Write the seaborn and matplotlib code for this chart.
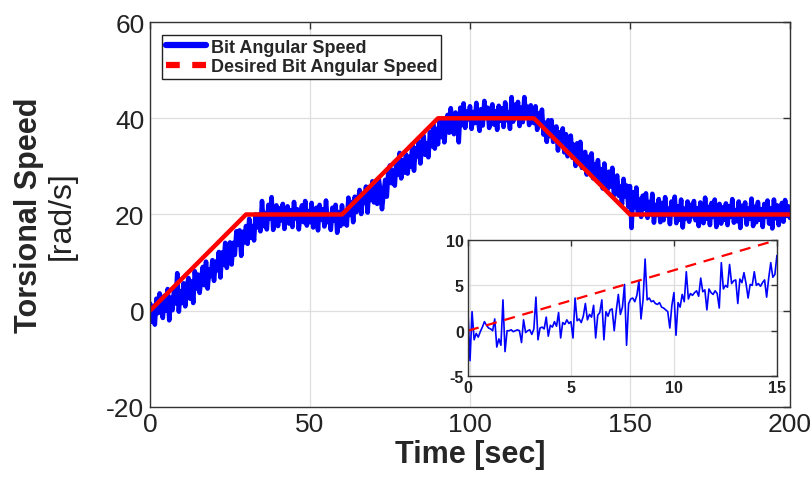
import numpy as np
import pandas as pd
import matplotlib.pyplot as plt
import seaborn as sns
from matplotlib.lines import Line2D

# ========= DATOS =========
# velocidad angular de la broca, muestreada cada 0.5 s de 0 a 200 s
time_range = [0, 200]
bit_speed = [
    1.5, -2.3, 1.0, -2.9, 2.5, -0.5, 3.6, 0.5, -1.5, 3.1, 0.0, 4.5, -2.0, 2.7, 0.1, 4.3, 1.5, 7.8, -0.2, 4.0,
    1.6, 5.7, 0.9, 4.7, 6.8, 2.5, 6.1, 1.6, 8.2, 4.6, 7.5, 3.7, 6.7, 9.1, 5.3, 10.2, 4.6, 8.5, 7.2, 10.5,
    6.2, 10.2, 8.4, 12.2, 6.9, 12.1, 9.6, 14.1, 8.9, 12.4, 14.2, 9.6, 14.1, 11.6, 16.5, 13.7, 16.7, 11.4, 16.4, 14.2,
    17.6, 13.9, 19.1, 15.2, 17.6, 14.6, 20.0, 17.3, 20.0, 16.5, 22.8, 17.6, 20.3, 16.9, 22.0, 19.1, 23.6, 16.8, 20.5, 21.9,
    17.6, 21.3, 18.8, 22.2, 17.0, 20.5, 21.7, 18.1, 20.9, 17.4, 22.6, 19.2, 21.1, 16.9, 20.3, 21.9, 18.4, 22.8, 17.7, 20.7,
    18.4, 22.4, 17.3, 20.7, 21.4, 16.7, 22.0, 18.9, 21.1, 17.5, 22.9, 18.4, 20.0, 16.8, 21.4, 18.8, 22.0, 16.2, 20.5, 17.6,
    21.9, 18.0, 20.7, 17.7, 23.5, 19.9, 22.6, 18.4, 23.7, 20.5, 22.4, 25.1, 20.1, 23.9, 22.4, 25.8, 20.4, 25.7, 23.0, 26.9,
    22.5, 26.0, 22.2, 27.4, 24.9, 21.1, 24.3, 27.2, 23.7, 29.1, 30.2, 26.5, 29.1, 26.0, 31.1, 28.3, 32.8, 27.5, 31.3, 28.7,
    32.5, 28.5, 32.0, 30.0, 34.6, 29.1, 33.8, 32.1, 35.2, 30.6, 34.6, 36.4, 32.4, 34.8, 31.9, 37.1, 34.2, 38.8, 33.7, 37.8,
    34.6, 39.5, 36.1, 39.2, 35.0, 39.0, 40.7, 37.0, 42.1, 38.2, 36.7, 41.2, 40.0, 35.0, 42.2, 38.6, 43.1, 38.0, 41.4, 39.8,
    42.5, 37.8, 41.3, 39.0, 43.2, 39.8, 37.4, 41.9, 38.5, 43.6, 40.1, 42.2, 38.0, 41.1, 42.9, 38.7, 41.5, 37.6, 42.6, 39.5,
    42.1, 38.2, 43.3, 39.6, 41.2, 37.8, 44.4, 39.3, 42.8, 40.2, 43.4, 38.4, 42.2, 39.2, 44.4, 40.5, 42.4, 38.6, 42.7, 39.3,
    39.0, 42.5, 37.6, 41.0, 38.8, 41.8, 36.6, 39.1, 35.1, 39.6, 36.3, 39.6, 35.1, 36.9, 38.3, 33.3, 37.1, 34.6, 37.9, 32.9,
    36.7, 32.1, 34.9, 36.4, 31.8, 34.5, 30.1, 34.8, 31.7, 35.1, 29.7, 32.1, 33.0, 28.3, 32.0, 29.4, 32.7, 27.5, 30.4, 27.6,
    31.3, 27.3, 29.4, 25.4, 30.6, 27.2, 25.2, 28.9, 25.8, 29.7, 24.0, 27.0, 28.1, 23.9, 25.8, 22.1, 27.4, 23.8, 26.0, 21.6,
    25.9, 17.2, 24.6, 21.5, 25.6, 20.5, 23.1, 19.5, 23.9, 21.2, 24.4, 19.3, 22.6, 20.0, 24.3, 18.3, 22.0, 19.9, 23.2, 18.4,
    22.4, 18.8, 23.6, 19.8, 21.2, 18.0, 22.7, 20.1, 23.7, 18.2, 21.7, 18.9, 23.1, 17.3, 21.2, 19.2, 22.7, 18.5, 22.0, 19.6,
    22.8, 18.8, 21.3, 17.6, 22.5, 20.0, 18.2, 23.5, 19.1, 21.6, 17.8, 22.4, 19.5, 23.1, 17.4, 20.9, 22.2, 18.1, 21.5, 18.9,
    22.3, 17.8, 21.7, 19.5, 23.2, 18.3, 20.9, 18.6, 22.7, 17.2, 21.8, 19.8, 22.5, 17.9, 21.2, 19.1, 23.3, 17.6, 21.6, 18.4,
    22.6, 18.9, 21.1, 17.4, 22.2, 19.6, 22.9, 18.1, 21.3, 17.1, 23.1, 19.2, 21.9, 17.8, 20.7, 22.4, 18.5, 23.0, 19.7, 21.7, 19.3,
]

# referencia deseada (tramos lineales)
desired_time = [0, 30, 60, 90, 120, 150, 200]
desired_speed = [0, 20, 20, 40, 40, 20, 20]

# zoom 0-15 s, muestreado cada 0.1 s
zoom_range = [0, 15]
zoom_speed = [
    2.2, -3.3, 2.1, -1.0, -0.3, -0.7, -0.1, 0.4, 1.0, 0.6,
    0.3, 0.2, 0.0, 1.3, -1.8, -0.9, -1.6, 3.4, -2.3, 0.0,
    0.0, 0.1, -0.1, 0.0, 0.1, 0.0, -1.3, 1.2, -0.2, 0.0,
    0.1, -0.4, 0.2, 3.7, -1.0, 0.3, 0.4, 0.2, 1.5, -0.6,
    0.6, 0.4, 1.0, 0.5, 2.0, -0.8, 0.9, 0.7, 1.2, 0.8,
    1.0, -0.8, 3.6, 1.1, 1.3, 0.9, 1.6, 3.0, 1.2, 1.8,
    1.5, 2.8, -0.8, 1.7, 2.0, 3.4, -1.0, 2.1, 1.6, 2.3,
    2.4, 0.0, 2.2, 4.0, 1.8, 2.6, 5.1, -1.6, 3.0, 3.5,
    3.6, 3.2, 3.9, 5.5, 1.3, 3.4, 7.9, 3.4, 3.6, 3.2,
    3.3, 3.0, 2.9, 3.1, 2.6, 2.5, 2.3, 2.1, 0.3, 2.8,
    4.2, -0.5, 3.1, 2.6, 4.0, 3.2, 6.5, 3.5, 4.1, 3.9,
    4.2, 4.4, 3.8, 5.8, 4.3, 4.5, 2.3, 4.6, 4.2, 4.0,
    4.4, 4.1, 2.5, 7.5, 4.6, 5.0, 4.8, 7.3, 5.2, 5.5,
    5.6, 3.0, 5.7, 5.3, 6.4, 5.2, 3.6, 5.1, 5.0, 6.5,
    5.0, 5.2, 4.9, 5.3, 5.6, 3.7, 5.8, 7.5, 5.9, 6.2,
    8.3,
]
zoom_desired_time = [0, 15]
zoom_desired_speed = [0, 10]

# ========= ESTILO =========
sns.set_style("whitegrid")
plt.rcParams['font.family'] = ['Liberation Sans', 'DejaVu Sans']
plt.rcParams['axes.unicode_minus'] = False
EDGE = '#333333'
GRID = '#dedede'

fig = plt.figure(figsize=(8.11, 4.81), dpi=100)

# ========= GRAFICA PRINCIPAL =========
ax = fig.add_axes([0.185, 0.152, 0.789, 0.800])
main_df = pd.DataFrame({"time": np.linspace(time_range[0], time_range[1], len(bit_speed)),
                        "speed": bit_speed})
des_df = pd.DataFrame({"time": desired_time, "speed": desired_speed})
sns.lineplot(data=main_df, x="time", y="speed", color='#0000ff', lw=3.3, ax=ax)
sns.lineplot(data=des_df, x="time", y="speed", color='#ff0000', lw=3.2, ax=ax)

ax.set_xlim(0, 200)
ax.set_ylim(-20, 60)
ax.set_xticks([0, 50, 100, 150, 200])
ax.set_yticks([-20, 0, 20, 40, 60])
ax.grid(True, color=GRID, lw=0.9)
ax.tick_params(direction='in', top=True, right=True, length=5, width=1,
               color=EDGE, labelsize=19, labelcolor='#222222', pad=4)
for s in ax.spines.values():
    s.set_color(EDGE)
    s.set_linewidth(1.0)
ax.set_xlabel("Time [sec]", fontsize=22, fontweight='bold', labelpad=2)
ax.set_ylabel("Torsional Speed", fontsize=22, fontweight='bold')
ax.yaxis.set_label_coords(-0.166, 0.5)
ax.text(-0.1375, 0.5, "[rad/s]", transform=ax.transAxes, rotation=90,
        ha='center', va='center', fontsize=23, color='#222222')

handles = [Line2D([], [], color='#0000ff', lw=4.5),
           Line2D([], [], color='#ff0000', lw=4.5, ls=(0, (2.2, 2.0)))]
leg = ax.legend(handles, ["Bit Angular Speed", "Desired Bit Angular Speed"],
                loc='upper left', bbox_to_anchor=(0.019, 0.966), borderaxespad=0,
                prop={'weight': 'bold', 'size': 13}, frameon=True, fancybox=False,
                edgecolor='#222222', framealpha=1, handlelength=2.2, handletextpad=0.3,
                labelspacing=0.12, borderpad=0.2)
leg.get_frame().set_linewidth(1.0)

# ========= ZOOM 0-15 s =========
ins = fig.add_axes([0.577, 0.216, 0.381, 0.283])
ins.set_facecolor('none')
zoom_df = pd.DataFrame({"time": np.linspace(zoom_range[0], zoom_range[1], len(zoom_speed)),
                        "speed": zoom_speed})
zdes_df = pd.DataFrame({"time": zoom_desired_time, "speed": zoom_desired_speed})
sns.lineplot(data=zoom_df, x="time", y="speed", color='#0000ff', lw=1.2, ax=ins)
sns.lineplot(data=zdes_df, x="time", y="speed", color='#ff0000', lw=1.6,
             ls=(0, (5, 3.5)), ax=ins)
ins.set_xlim(0, 15)
ins.set_ylim(-5, 10)
ins.set_xticks([0, 5, 10, 15])
ins.set_yticks([-5, 0, 5, 10])
ins.grid(True, color=GRID, lw=0.9)
ins.tick_params(direction='in', top=True, right=True, length=4, width=1,
                color=EDGE, labelsize=11.5, labelcolor='#222222', pad=3)
for lab in ins.get_xticklabels() + ins.get_yticklabels():
    lab.set_fontweight('bold')
for s in ins.spines.values():
    s.set_color(EDGE)
    s.set_linewidth(1.0)
ins.set_xlabel("")
ins.set_ylabel("")

plt.savefig("out.png", dpi=100)
plt.close()
